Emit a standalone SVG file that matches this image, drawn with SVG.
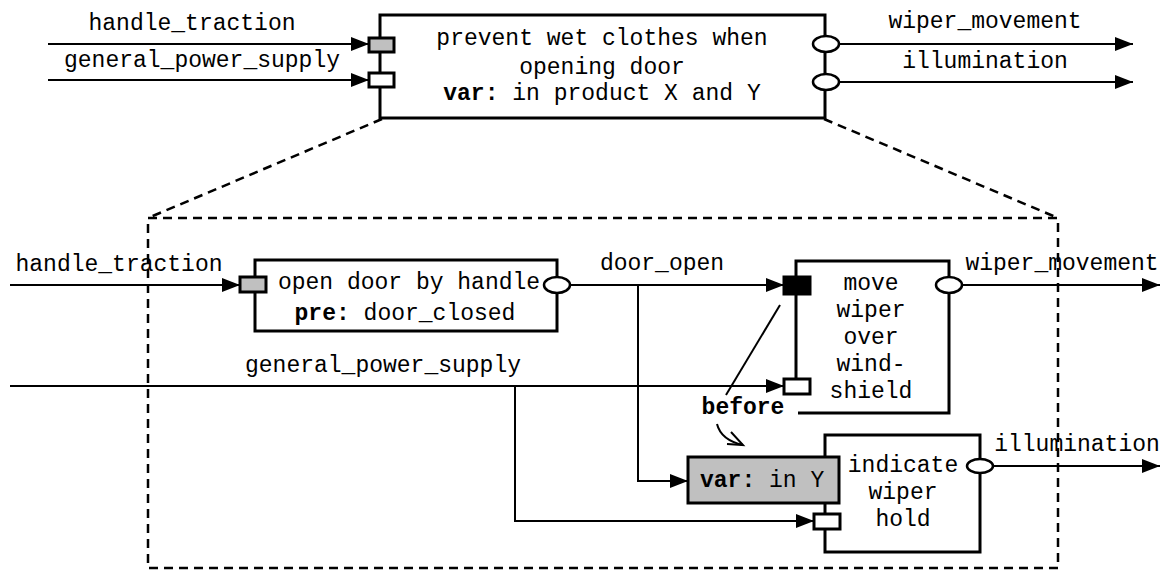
<svg xmlns="http://www.w3.org/2000/svg" width="1161" height="570" viewBox="0 0 1161 570">
<style>
text{font-family:"Liberation Mono","Courier New",monospace;font-size:23px;fill:#000}
.b{font-weight:bold}
.box{fill:#fff;stroke:#000;stroke-width:3}
.port{stroke:#000;stroke-width:3}
.ln{fill:none;stroke:#000;stroke-width:2}
.dash{fill:none;stroke:#000;stroke-width:2.5;stroke-dasharray:9 6}
.ell{fill:#fff;stroke:#000;stroke-width:2.5}
</style>
<defs>
<marker id="ah" markerUnits="userSpaceOnUse" markerWidth="20" markerHeight="16" refX="18" refY="7" orient="auto">
<path d="M0,0 L18,7 L0,14 z" fill="#000"/>
</marker>
</defs>
<rect width="1161" height="570" fill="#fff"/>
<g id="zoom-frame">
<path class="dash" d="M382,119 L148,218"/>
<path class="dash" d="M824,119 L1058,218"/>
<rect class="dash" x="148" y="218" width="910" height="350"/>
</g>
<g id="connectors">
<line class="ln" x1="48" y1="44" x2="369" y2="44" marker-end="url(#ah)"/>
<line class="ln" x1="48" y1="80" x2="369" y2="80" marker-end="url(#ah)"/>
<line class="ln" x1="839" y1="44" x2="1133" y2="44" marker-end="url(#ah)"/>
<line class="ln" x1="839" y1="82" x2="1133" y2="82" marker-end="url(#ah)"/>
<line class="ln" x1="10" y1="285" x2="240" y2="285" marker-end="url(#ah)"/>
<line class="ln" x1="570" y1="285" x2="784" y2="285" marker-end="url(#ah)"/>
<line class="ln" x1="962" y1="285" x2="1160" y2="285" marker-end="url(#ah)"/>
<line class="ln" x1="10" y1="386" x2="784" y2="386" marker-end="url(#ah)"/>
<path class="ln" d="M383,386 H515 V521 H814" marker-end="url(#ah)"/>
<path class="ln" d="M638,285 V481 H688" marker-end="url(#ah)"/>
<line class="ln" x1="993" y1="466" x2="1160" y2="466" marker-end="url(#ah)"/>
<text x="192" y="30" text-anchor="middle">handle_traction</text>
<text x="202" y="67" text-anchor="middle">general_power_supply</text>
<text x="985" y="28" text-anchor="middle">wiper_movement</text>
<text x="985" y="68" text-anchor="middle">illumination</text>
<text x="119" y="271" text-anchor="middle">handle_traction</text>
<text x="662" y="270" text-anchor="middle">door_open</text>
<text x="1062" y="270" text-anchor="middle">wiper_movement</text>
<text x="383" y="372" text-anchor="middle">general_power_supply</text>
<text x="1077" y="451" text-anchor="middle">illumination</text>
</g>
<g id="top-function">
<rect class="box" x="380" y="15" width="445" height="103"/>
<rect class="port" x="369" y="38" width="25" height="14" fill="#c0c0c0"/>
<rect class="port" x="369" y="73" width="25" height="14" fill="#fff"/>
<ellipse class="ell" cx="826" cy="44" rx="13" ry="8"/>
<ellipse class="ell" cx="826" cy="82" rx="13" ry="8"/>
<text x="602" y="45" text-anchor="middle">prevent wet clothes when</text>
<text x="602" y="74" text-anchor="middle">opening door</text>
<text x="602" y="100" text-anchor="middle"><tspan class="b">var:</tspan> in product X and Y</text>
</g>
<g id="open-door">
<rect class="box" x="255" y="260" width="302" height="71"/>
<rect class="port" x="240" y="277" width="26" height="15" fill="#c0c0c0"/>
<ellipse class="ell" cx="557" cy="285" rx="13" ry="8"/>
<text x="409" y="289" text-anchor="middle">open door by handle</text>
<text x="405" y="320" text-anchor="middle"><tspan class="b">pre:</tspan> door_closed</text>
</g>
<g id="move-wiper">
<path d="M798,413 H949 V261 H796 V380" fill="#fff" stroke="#000" stroke-width="3"/>
<rect class="port" x="784" y="277" width="26" height="17" fill="#000"/>
<rect class="port" x="784" y="379" width="26" height="15" fill="#fff"/>
<ellipse class="ell" cx="949" cy="285" rx="13" ry="8"/>
<text x="871" y="290" text-anchor="middle">move</text>
<text x="871" y="317" text-anchor="middle">wiper</text>
<text x="871" y="344" text-anchor="middle">over</text>
<text x="871" y="371" text-anchor="middle">wind-</text>
<text x="871" y="398" text-anchor="middle">shield</text>
</g>
<g id="indicate-wiper-hold">
<rect class="box" x="825" y="435" width="155" height="117"/>
<ellipse class="ell" cx="980" cy="466" rx="13" ry="7"/>
<text x="903" y="472" text-anchor="middle">indicate</text>
<text x="903" y="499" text-anchor="middle">wiper</text>
<text x="903" y="526" text-anchor="middle">hold</text>
<rect class="port" x="814" y="514" width="26" height="15" fill="#fff"/>
</g>
<g id="var-in-Y">
<rect class="port" x="688" y="457" width="151" height="46" fill="#c0c0c0"/>
<text x="700" y="487"><tspan class="b">var:</tspan> in Y</text>
</g>
<g id="before-constraint">
<line class="ln" x1="780" y1="305" x2="726" y2="395"/>
<text x="743" y="414" text-anchor="middle" class="b">before</text>
<path class="ln" d="M717,424 Q721,440 743,445"/>
<path class="ln" d="M731,432 L743,445 L727,444"/>
</g>
</svg>
